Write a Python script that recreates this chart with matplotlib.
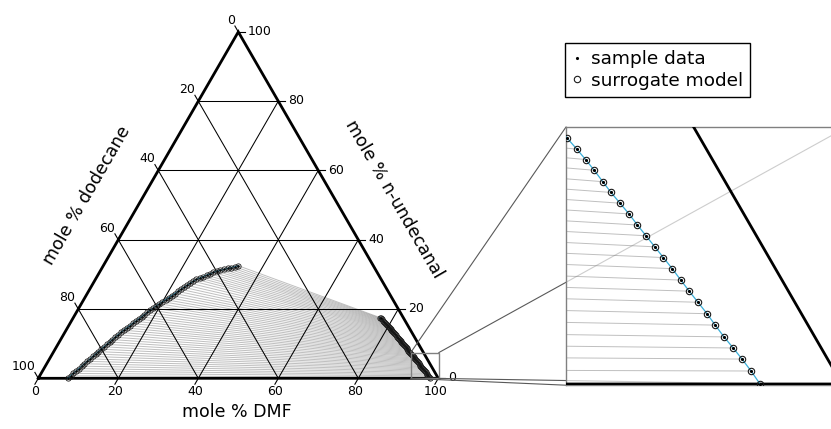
import numpy as np
import matplotlib
matplotlib.use("Agg")
import matplotlib.pyplot as plt
from matplotlib.patches import Rectangle, ConnectionPatch

# coexisting phases, mole % (bottom to top along each branch)
left_dmf = [7.35, 7.70, 8.05, 8.39, 8.74, 9.09, 9.43, 9.78, 10.13, 10.48,
            10.82, 11.17, 11.52, 11.88, 12.23, 12.59, 12.94, 13.29, 13.65, 14.00,
            14.41, 14.83, 15.25, 15.67, 16.09, 16.51, 16.93, 17.34, 17.76, 18.18,
            18.60, 19.04, 19.52, 19.99, 20.46, 20.93, 21.40, 21.88, 22.35, 22.82,
            23.29, 23.76, 24.24, 24.71, 25.25, 25.90, 26.54, 27.19, 27.84, 28.49,
            29.19, 29.95, 30.71, 31.47, 32.23, 32.99, 33.75]
left_und = [0.00, 0.70, 1.40, 2.10, 2.80, 3.50, 4.20, 4.90, 5.60, 6.30,
            7.00, 7.70, 8.40, 9.09, 9.79, 10.48, 11.17, 11.86, 12.56, 13.25,
            13.90, 14.54, 15.18, 15.82, 16.46, 17.10, 17.74, 18.38, 19.02, 19.66,
            20.30, 20.92, 21.51, 22.11, 22.70, 23.29, 23.88, 24.47, 25.07, 25.66,
            26.25, 26.84, 27.43, 28.02, 28.54, 28.95, 29.36, 29.77, 30.17, 30.58,
            30.91, 31.18, 31.44, 31.71, 31.97, 32.24, 32.50]
right_dmf = [97.95, 97.54, 97.14, 96.76, 96.37, 95.98, 95.61, 95.22, 94.84, 94.47,
             94.09, 93.71, 93.34, 92.96, 92.59, 92.22, 91.84, 91.46, 91.10, 90.72,
             90.35, 89.98, 89.59, 89.22, 88.85, 88.48, 88.11, 87.74, 87.37, 87.00,
             86.63, 86.26, 85.89, 85.52, 85.15, 84.78, 84.41, 84.04, 83.67, 83.30,
             82.91, 82.52, 82.12, 81.73, 81.33, 80.94, 80.54, 80.15, 79.75, 79.36,
             78.96, 78.57, 78.17, 77.78, 77.38, 76.99, 76.60]
right_und = [0.00, 0.375, 0.72, 1.04, 1.36, 1.70, 2.03, 2.36, 2.68, 3.00,
             3.33, 3.65, 3.96, 4.28, 4.59, 4.91, 5.22, 5.53, 5.84, 6.17,
             6.48, 6.78, 7.09, 7.40, 7.71, 8.02, 8.33, 8.64, 8.95, 9.26,
             9.57, 9.88, 10.19, 10.50, 10.81, 11.12, 11.43, 11.74, 12.05, 12.36,
             12.67, 12.98, 13.29, 13.60, 13.91, 14.22, 14.53, 14.84, 15.15, 15.46,
             15.77, 16.08, 16.38, 16.68, 16.98, 17.27, 17.55]

ticks = [0, 20, 40, 60, 80, 100]
zoom_x = (93.1, 100.125)
zoom_y = (-0.03, 6.425)

H = np.sqrt(3) / 2


def proj(dmf, und):
    dmf = np.asarray(dmf, float)
    und = np.asarray(und, float)
    return dmf + und / 2, und * H


def draw_phases(a, ms, dot_ms, mew):
    lx, ly = proj(left_dmf, left_und)
    rx, ry = proj(right_dmf, right_und)
    for i in range(len(lx)):
        a.plot([lx[i], rx[i]], [ly[i], ry[i]], color='0.5', lw=0.7, alpha=0.5, zorder=1)
    # triangle boundary
    bx, by = proj([0, 100, 0, 0], [0, 0, 100, 0])
    a.plot(bx, by, color='k', lw=2, zorder=3, solid_joinstyle='miter')
    hs = []
    for xs, ys in ((lx, ly), (rx, ry)):
        a.plot(xs, ys, color='#3aaed8', lw=0.9, zorder=4)
        h1, = a.plot(xs, ys, ls='none', marker='.', ms=dot_ms, color='k', zorder=5)
        h2, = a.plot(xs, ys, ls='none', marker='o', ms=ms, mfc='none', mec='0.1',
                     mew=mew, zorder=5)
        hs = [h1, h2]
    return hs


fig = plt.figure(figsize=(8.31, 4.29), dpi=100)
ax = fig.add_axes([0, 0, 480 / 831, 1])
ax.set_xlim(-9.575, 110.425)
ax.set_ylim(-12.675, 94.575)
ax.axis('off')

# grid
for v in ticks[1:-1]:
    for p, q in (([0, 100 - v], [v, v]), ([v, v], [0, 100 - v]), ([100 - v, 0], [0, 100 - v])):
        gx, gy = proj(p, q)
        ax.plot(gx, gy, color='k', lw=0.75, zorder=2)

draw_phases(ax, 3.8, 1.8, 0.6)

L = 1.7
for t in ticks:
    # bottom: mole % DMF
    x0, y0 = proj(t, 0)
    ax.plot([x0, x0 - 0.5 * L], [y0, y0 - H * L], color='k', lw=0.8)
    ax.text(x0 - 0.75, y0 - 3.4, str(t), ha='center', va='center', fontsize=9)
    # left: mole % dodecane
    x0, y0 = proj(0, 100 - t)
    ax.plot([x0, x0 - 0.5 * L], [y0, y0 + H * L], color='k', lw=0.8)
    ax.text(x0 - 0.8, y0 + 2.9, str(t), ha='right', va='center', fontsize=9)
    # right: mole % n-undecanal
    x0, y0 = proj(100 - t, t)
    ax.plot([x0, x0 + L], [y0, y0], color='k', lw=0.8)
    ax.text(x0 + 2.4, y0 + 0.1, str(t), ha='left', va='center', fontsize=9)

ax.text(12.05, 45.7, 'mole % dodecane', rotation=60, ha='center', va='center', fontsize=12.5)
ax.text(89.0, 44.7, 'mole % n-undecanal', rotation=-60, ha='center', va='center', fontsize=12.5)
ax.text(49.75, -8.4, 'mole % DMF', ha='center', va='center', fontsize=12.5)

# zoom box and connectors
ax.add_patch(Rectangle((zoom_x[0], zoom_y[0]), zoom_x[1] - zoom_x[0], zoom_y[1] - zoom_y[0],
                       fill=False, ec='0.5', lw=1, zorder=6))

axins = fig.add_axes([566 / 831, (429 - 385.2) / 429, 281 / 831, 258.2 / 429])
for (cx, cy) in ((0, 0), (0, 1), (1, 0), (1, 1)):
    con = ConnectionPatch(xyA=(zoom_x[cx], zoom_y[cy]), coordsA=ax.transData,
                          xyB=(cx, cy), coordsB=axins.transAxes,
                          color='0.35', lw=0.8, zorder=6)
    con.set_clip_on(False)
    ax.add_artist(con)

axins.set_facecolor((1, 1, 1, 0.7))
axins.set_xlim(*zoom_x)
axins.set_ylim(*zoom_y)
axins.set_xticks([])
axins.set_yticks([])
for s in axins.spines.values():
    s.set_color('0.5')
    s.set_linewidth(1)
h_dot, h_circ = draw_phases(axins, 4.6, 2.5, 0.8)

fig.legend([h_dot, h_circ], ['sample data', 'surrogate model'], loc='upper left',
           bbox_to_anchor=(565 / 831, 1 - 42.7 / 429), bbox_transform=fig.transFigure,
           borderaxespad=0, fontsize=13.3, fancybox=False, edgecolor='k', framealpha=1,
           handlelength=0.5, handletextpad=0.5, labelspacing=0.2, borderpad=0.4)

fig.savefig('out.png', dpi=100)
